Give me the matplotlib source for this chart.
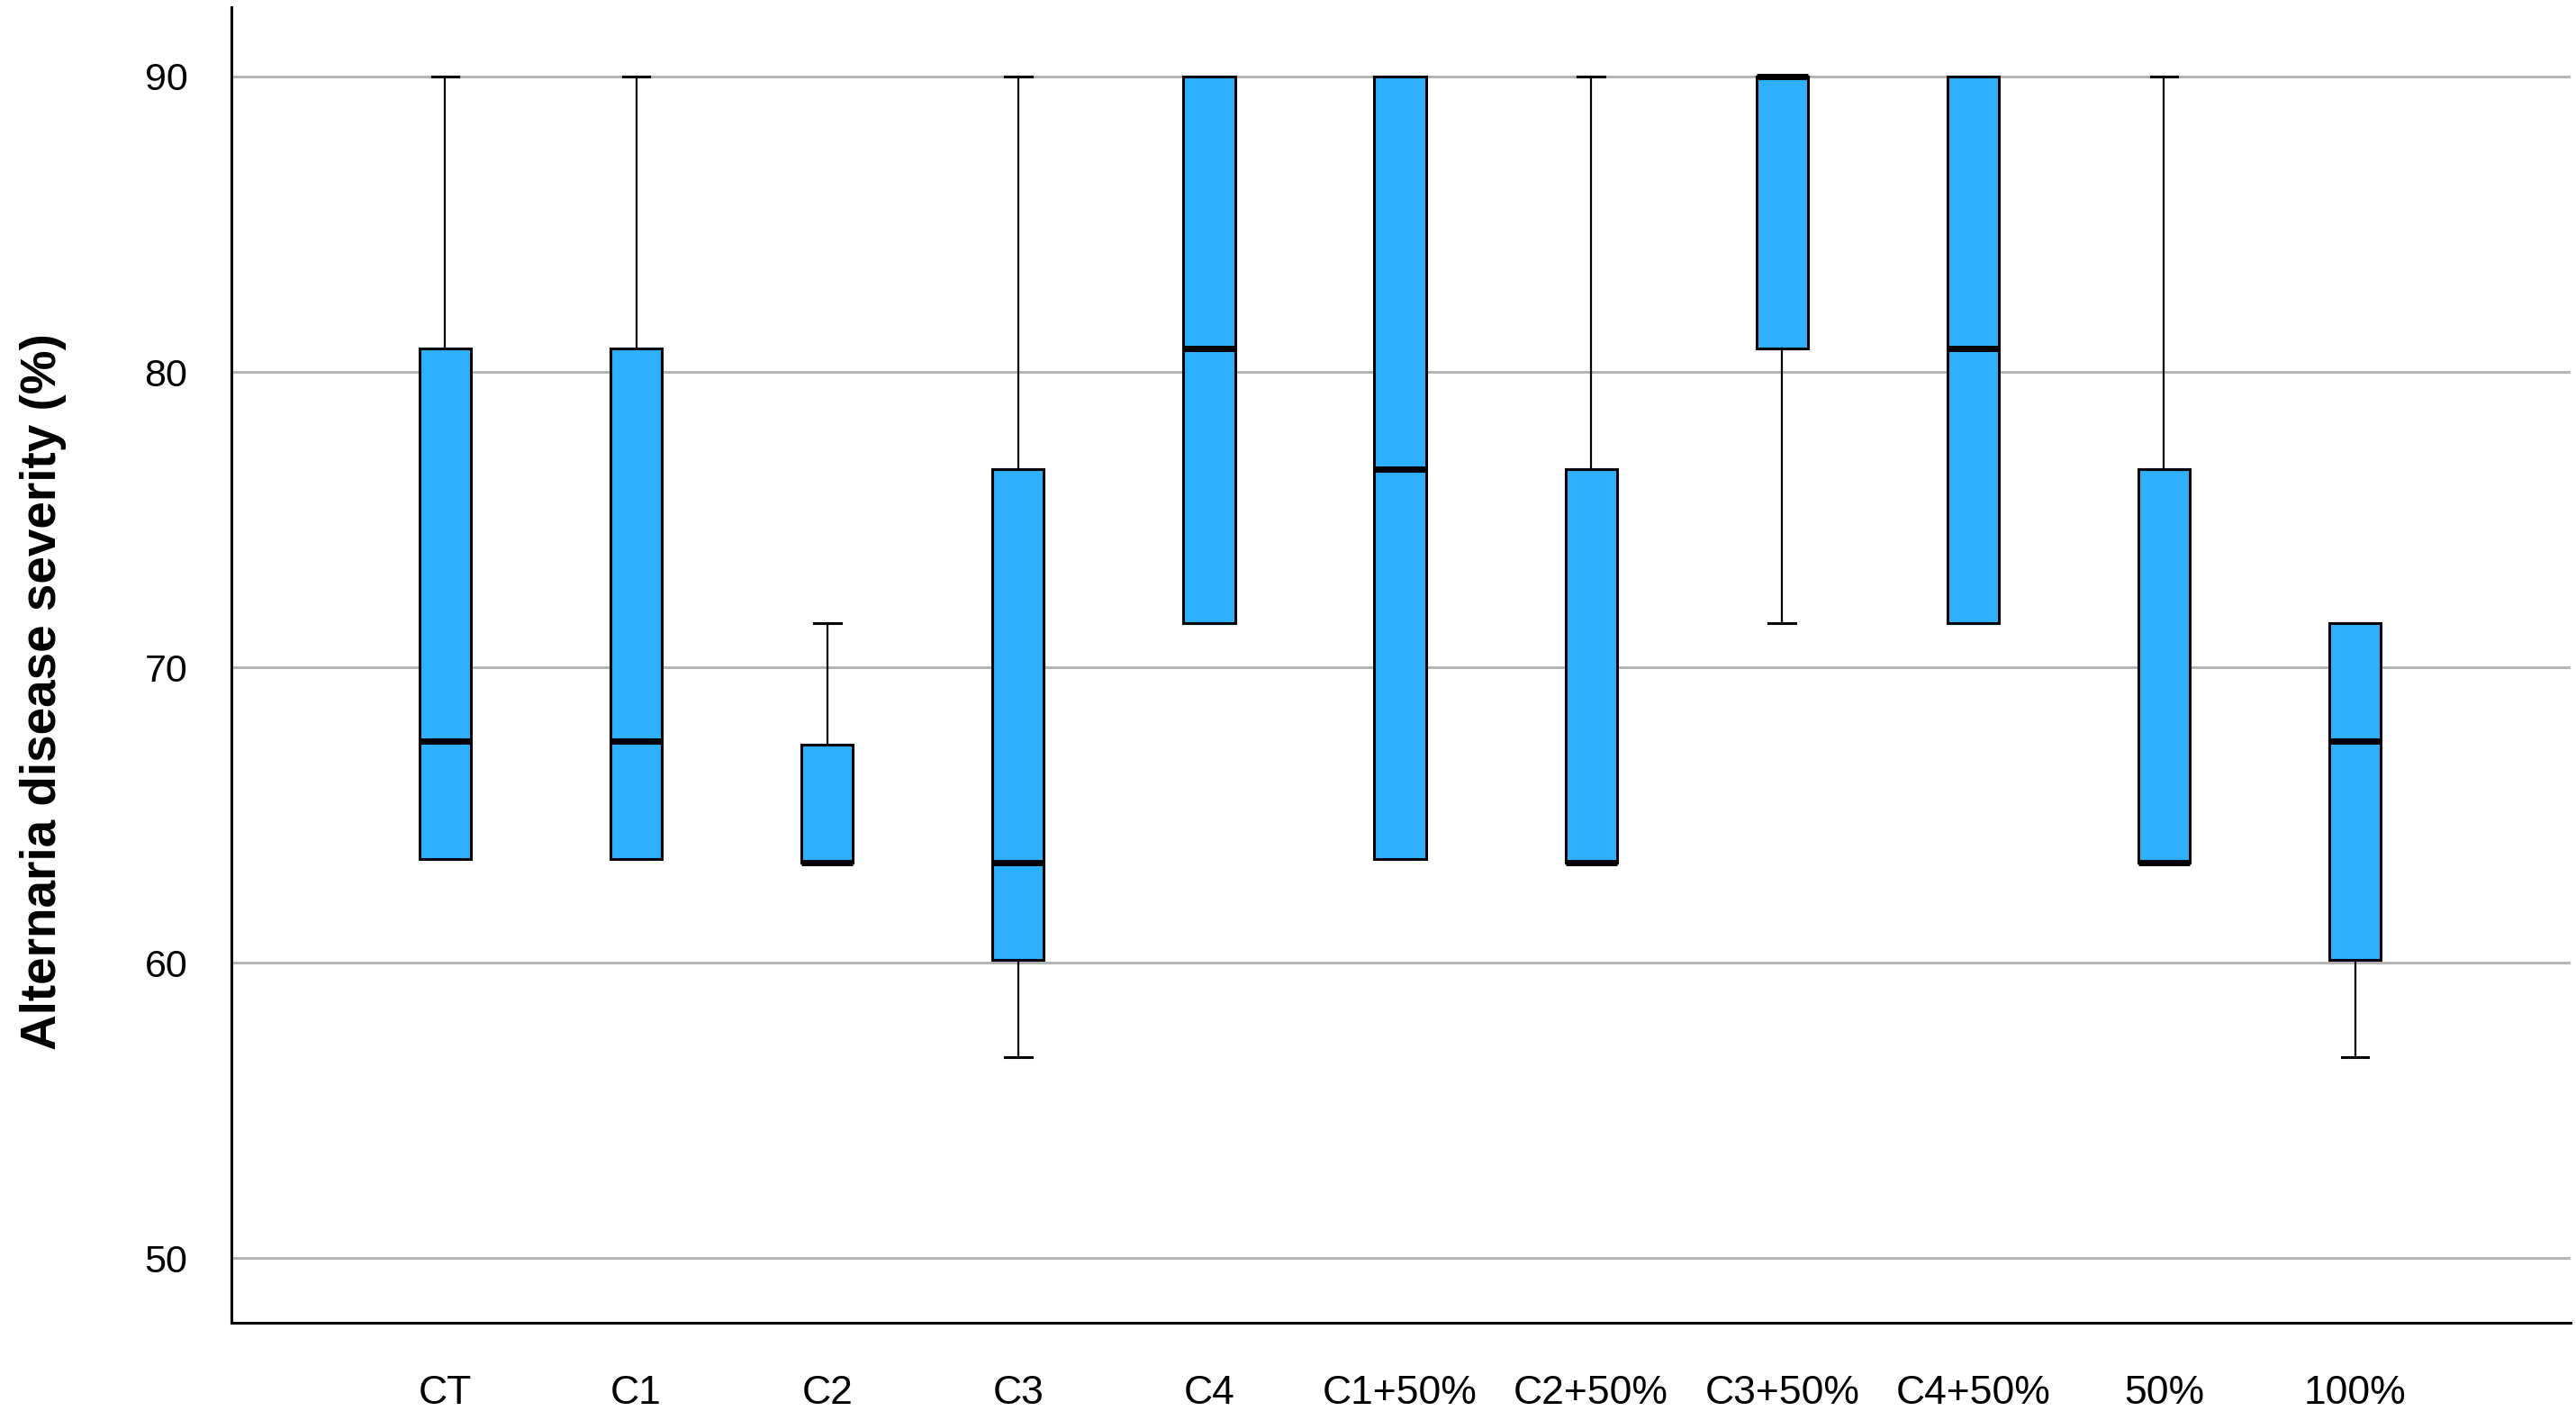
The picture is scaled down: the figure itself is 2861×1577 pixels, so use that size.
import matplotlib.pyplot as plt

# treatments and box statistics
groups = ['CT', 'C1', 'C2', 'C3', 'C4', 'C1+50%', 'C2+50%', 'C3+50%', 'C4+50%', '50%', '100%']
whis_low = [63.5, 63.5, 63.4, 56.8, 71.5, 63.5, 63.4, 71.5, 71.5, 63.4, 56.8]
q1 = [63.5, 63.5, 63.4, 60.1, 71.5, 63.5, 63.4, 80.8, 71.5, 63.4, 60.1]
medians = [67.5, 67.5, 63.4, 63.4, 80.8, 76.7, 63.4, 90.0, 80.8, 63.4, 67.5]
q3 = [80.8, 80.8, 67.4, 76.7, 90.0, 90.0, 76.7, 90.0, 90.0, 76.7, 71.5]
whis_high = [90.0, 90.0, 71.5, 90.0, 90.0, 90.0, 90.0, 90.0, 90.0, 90.0, 71.5]
yticks = [50, 60, 70, 80, 90]

plt.rcParams['font.family'] = ['Liberation Sans', 'DejaVu Sans']

stats = []
for i in range(len(groups)):
    stats.append({'label': groups[i], 'whislo': whis_low[i], 'q1': q1[i],
                  'med': medians[i], 'q3': q3[i], 'whishi': whis_high[i], 'fliers': []})

fig = plt.figure(figsize=(28.61, 15.77), dpi=100)
ax = fig.add_axes([0.0898, 0.0685, 0.9082, 0.9265])

positions = list(range(1, len(groups) + 1))
ax.bxp(stats, positions=positions, widths=0.27, capwidths=0.14, patch_artist=True,
       showfliers=False,
       boxprops=dict(facecolor='#2fb0fe', edgecolor='black', linewidth=2.2),
       medianprops=dict(color='black', linewidth=5),
       whiskerprops=dict(color='black', linewidth=1.6),
       capprops=dict(color='black', linewidth=2.2),
       zorder=3)

ax.set_xlim(-0.12, 12.13)
ax.set_ylim(47.82, 92.35)
ax.set_yticks(yticks)
ax.set_xticks(positions)
ax.set_xticklabels(groups)
ax.yaxis.grid(True, color='#b0b0b0', linewidth=2)
ax.set_axisbelow(True)

for s in ['top', 'right']:
    ax.spines[s].set_visible(False)
for s in ['left', 'bottom']:
    ax.spines[s].set_linewidth(2.2)

ax.tick_params(axis='y', length=0, pad=35, labelsize=31)
ax.tick_params(axis='x', length=0, pad=42, labelsize=32)

ax.set_ylabel('Alternaria disease severity (%)', fontsize=39.5, fontweight='bold')
ax.yaxis.set_label_coords(-0.0704, 0.48)

fig.savefig('out.png', dpi=100)
